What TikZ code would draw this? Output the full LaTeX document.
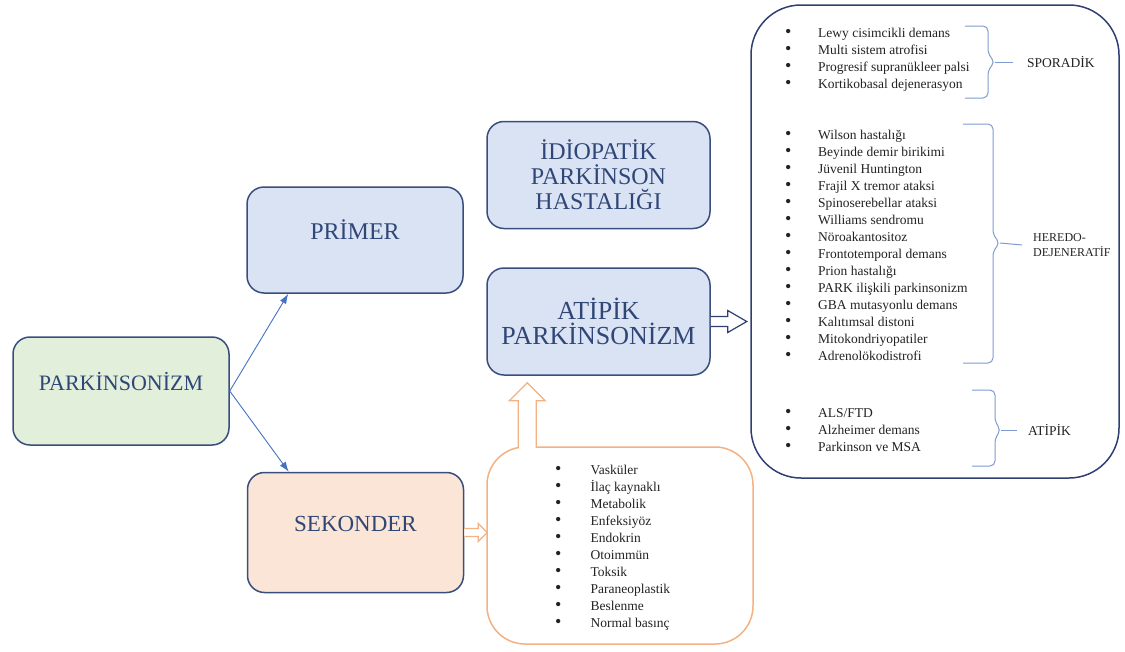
\documentclass[tikz,border=0pt]{standalone}
\usepackage{fontspec}
\setmainfont{Liberation Serif}
\usepackage{tikz}
\usetikzlibrary{arrows.meta, calc}
\definecolor{boxline}{HTML}{3A4E7E}
\definecolor{boxtext}{HTML}{2F4677}
\definecolor{navyline}{HTML}{2F3F72}
\definecolor{arrowblue}{HTML}{4472C4}
\definecolor{bracecol}{HTML}{7C9BD0}
\definecolor{orangeline}{HTML}{F4B183}
\definecolor{greenfill}{HTML}{E2EFDA}
\definecolor{bluefill}{HTML}{DAE3F3}
\definecolor{peachfill}{HTML}{FBE5D6}
\definecolor{listink}{HTML}{222222}
\tikzset{
    catbox/.style={rectangle, rounded corners=17pt, draw=boxline, line width=1.5pt, text=boxtext, align=center, inner sep=0pt},
    raisetext/.style={text height=16pt, text depth=18pt},
    listtext/.style={anchor=north west, inner sep=0pt, align=left, text=listink, font=\fontsize{13.5}{17}\selectfont},
    grouplabel/.style={anchor=west, inner sep=0pt, align=left, text=listink, font=\fontsize{13.5}{15}\selectfont},
    arrow/.style={draw=arrowblue, line width=0.9pt, -{Latex[length=10pt, width=7pt]}},
    curly/.style={draw=bracecol, line width=1pt, rounded corners=5pt},
    hollow/.style={line width=1.2pt, fill=white, line join=miter}
}
\newcommand{\itm}[1][33pt]{\makebox[#1][l]{\fontsize{18}{17}\selectfont\textbullet}\strut}

\begin{document}
\begin{tikzpicture}[x=1pt, y=-1pt]
    \useasboundingbox (0,0) rectangle (1125,651);
    % category boxes
    \node (park) [catbox, raisetext, fill=greenfill, minimum width=216pt, minimum height=108pt, font=\fontsize{22}{25}\selectfont] at (121,391) {PARKİNSONİZM};
    \node (primer) [catbox, raisetext, fill=bluefill, minimum width=216pt, minimum height=106pt, font=\fontsize{24}{25}\selectfont] at (355,240) {PRİMER};
    \node (sekonder) [catbox, raisetext, fill=peachfill, minimum width=216pt, minimum height=120pt, font=\fontsize{23}{25}\selectfont] at (355.5,532.5) {SEKONDER};
    \node (idio) [catbox, fill=bluefill, minimum width=223pt, minimum height=107pt, font=\fontsize{24}{25}\selectfont] at (598.5,175) {İDİOPATİK\\PARKİNSON\\HASTALIĞI};
    \node (atipik) [catbox, fill=bluefill, minimum width=223pt, minimum height=107pt, font=\fontsize{26}{25}\selectfont] at (598.5,321.5) {ATİPİK\\PARKİNSONİZM};

    % outer boxes
    \node (bigbox) [draw=navyline, line width=1.5pt, rounded corners=50pt, minimum width=368pt, minimum height=473pt] at (935,241.5) {};
    \node (secbox) [draw=orangeline, line width=1.5pt, rounded corners=38pt, minimum width=266pt, minimum height=197pt] at (620,545.5) {};

    % lists
    \node (sporlist) [listtext] at (785,25) {\itm Lewy cisimcikli demans\\ \itm Multi sistem atrofisi\\ \itm Progresif supranükleer palsi\\ \itm Kortikobasal dejenerasyon};
    \node (herlist) [listtext] at (785,127) {\itm Wilson hastalığı\\ \itm Beyinde demir birikimi\\ \itm Jüvenil Huntington\\ \itm Frajil X tremor ataksi\\ \itm Spinoserebellar ataksi\\ \itm Williams sendromu\\ \itm Nöroakantositoz\\ \itm Frontotemporal demans\\ \itm Prion hastalığı\\ \itm PARK ilişkili parkinsonizm\\ \itm GBA mutasyonlu demans\\ \itm Kalıtımsal distoni\\ \itm Mitokondriyopatiler\\ \itm Adrenolökodistrofi};
    \node (atylist) [listtext] at (785,405) {\itm ALS/FTD\\ \itm Alzheimer demans\\ \itm Parkinson ve MSA};
    \node (seclist) [listtext] at (555,462) {\itm[32pt] Vasküler\\ \itm[32pt] İlaç kaynaklı\\ \itm[32pt] Metabolik\\ \itm[32pt] Enfeksiyöz\\ \itm[32pt] Endokrin\\ \itm[32pt] Otoimmün\\ \itm[32pt] Toksik\\ \itm[32pt] Paraneoplastik\\ \itm[32pt] Beslenme\\ \itm[32pt] Normal basınç};

    % group labels and braces
    \node (spor) [grouplabel] at (1027,62) {SPORADİK};
    \node (hered) [grouplabel, font=\fontsize{12}{15}\selectfont] at (1033,245) {HEREDO-\\DEJENERATİF};
    \node (atyp) [grouplabel] at (1028,430) {ATİPİK};
    \coordinate (sportip) at (995,62);
    \coordinate (heredtip) at (1000,243);
    \coordinate (atyptip) at (1001,430);
    \draw [curly] (965,26) -- (988,26) -- (988,54) -- (sportip) -- (988,70) -- (988,98) -- (965,98);
    \draw [curly] (963,124) -- (993,124) -- (993,235) -- (heredtip) -- (993,251) -- (993,363) -- (963,363);
    \draw [curly] (972,390) -- (995,390) -- (995,422) -- (atyptip) -- (995,438) -- (995,466) -- (972,466);
    \draw [curly] (sportip) -- ([xshift=-14pt]spor.west);
    \draw [curly] (heredtip) -- ([xshift=-11pt]hered.west);
    \draw [curly] (atyptip) -- ([xshift=-11pt]atyp.west);

    % connectors
    \draw [arrow] (park.east) -- ($(primer.south west)+(42,0)$);
    \draw [arrow] (park.east) -- ($(sekonder.north west)+(42,0)$);
    \draw [hollow, draw=orangeline] ($(sekonder.east)+(0,-4)$) -- ++(14,0) -- ++(0,-5) -- ++(9,9) -- ++(-9,9) -- ++(0,-5) -- ++(-14,0);
    \draw [hollow, draw=orangeline] ($(atipik.south west)+(32,72)$) -- ++(0,-47) -- ++(-9,0) -- ++(18,-18) -- ++(18,18) -- ++(-9,0) -- ++(0,47);
    \draw [hollow, draw=navyline] ($(atipik.east)+(0,-5)$) -- ++(17,0) -- ++(0,-6) -- ++(19,11) -- ++(-19,11) -- ++(0,-6) -- ++(-17,0);
\end{tikzpicture}
\end{document}
